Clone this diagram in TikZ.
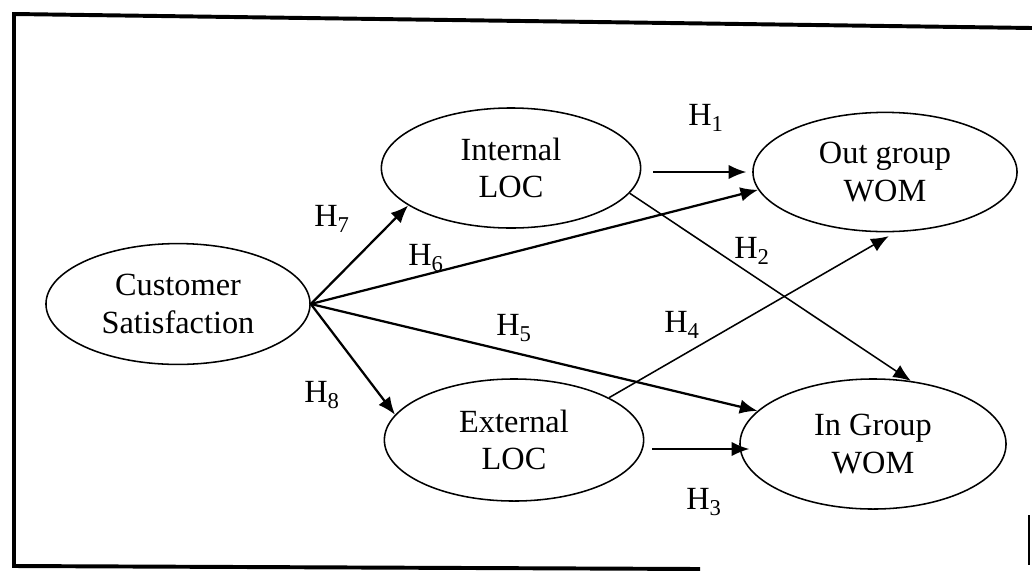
\documentclass[tikz,border=0pt]{standalone}
\usepackage{fontspec}
\setmainfont{Liberation Serif}
\usetikzlibrary{arrows.meta,shapes.geometric,calc}

\begin{document}
\begin{tikzpicture}[
    x=0.025cm, y=-0.025cm,
    construct/.style={draw, ellipse, line width=1.1pt, inner sep=0pt, align=center, font=\fontsize{23}{26.5}\selectfont},
    hyp/.style={font=\fontsize{23}{26}\selectfont, inner sep=0pt},
    arr/.style={-{Latex[length=0.44cm, width=0.36cm]}, line width=1.6pt},
    thinarr/.style={-{Latex[length=0.44cm, width=0.36cm]}, line width=1.1pt},
    frame/.style={line width=2.8pt}
]
\useasboundingbox (0,0) rectangle (1032,574);

% frame of the scanned figure
\draw[frame] (1032,28) -- (14,14) -- (14,566) -- (700,569);
\draw[line width=0.8pt] (1029,515) -- (1029,565);

\node[construct, minimum width=6.6cm, minimum height=3.02cm] (cs) at (178,304) {Customer\\Satisfaction};
\node[construct, minimum width=6.48cm, minimum height=3cm] (int) at (511,168) {Internal\\LOC};
\node[construct, minimum width=6.48cm, minimum height=3.05cm] (ext) at (514,440) {External\\LOC};
\node[construct, minimum width=6.6cm, minimum height=2.98cm] (out) at (885,172) {Out group\\WOM};
\node[construct, minimum width=6.65cm, minimum height=3.25cm] (ing) at (873,444) {In Group\\WOM};

% hypotheses
\draw[arr] (cs.east) -- (int.200);
\draw[arr] (cs.east) -- (out.188);
\draw[arr] (cs.east) -- (ing.164);
\draw[arr] (cs.east) -- (ext.168);
\draw[thinarr, shorten <=0.3cm, shorten >=0.15cm] (int.east |- out.west) -- (out.west);
\draw[thinarr] (int.-12) -- (ing.59);
\draw[thinarr, shorten >=0.2cm] (ext.24) -- (out.-80);
\draw[thinarr] ($(ext.east)+(8,9)$) -- ($(ing.west)+(10,5)$);

\node[hyp] (h1) at (706,118) {H\textsubscript{1}};
\node[hyp] (h2) at (752,251) {H\textsubscript{2}};
\node[hyp] (h3) at (704,502) {H\textsubscript{3}};
\node[hyp] (h4) at (682,325) {H\textsubscript{4}};
\node[hyp] (h5) at (514,328) {H\textsubscript{5}};
\node[hyp] (h6) at (426,258) {H\textsubscript{6}};
\node[hyp] (h7) at (332,219) {H\textsubscript{7}};
\node[hyp] (h8) at (322,395) {H\textsubscript{8}};
\end{tikzpicture}
\end{document}
